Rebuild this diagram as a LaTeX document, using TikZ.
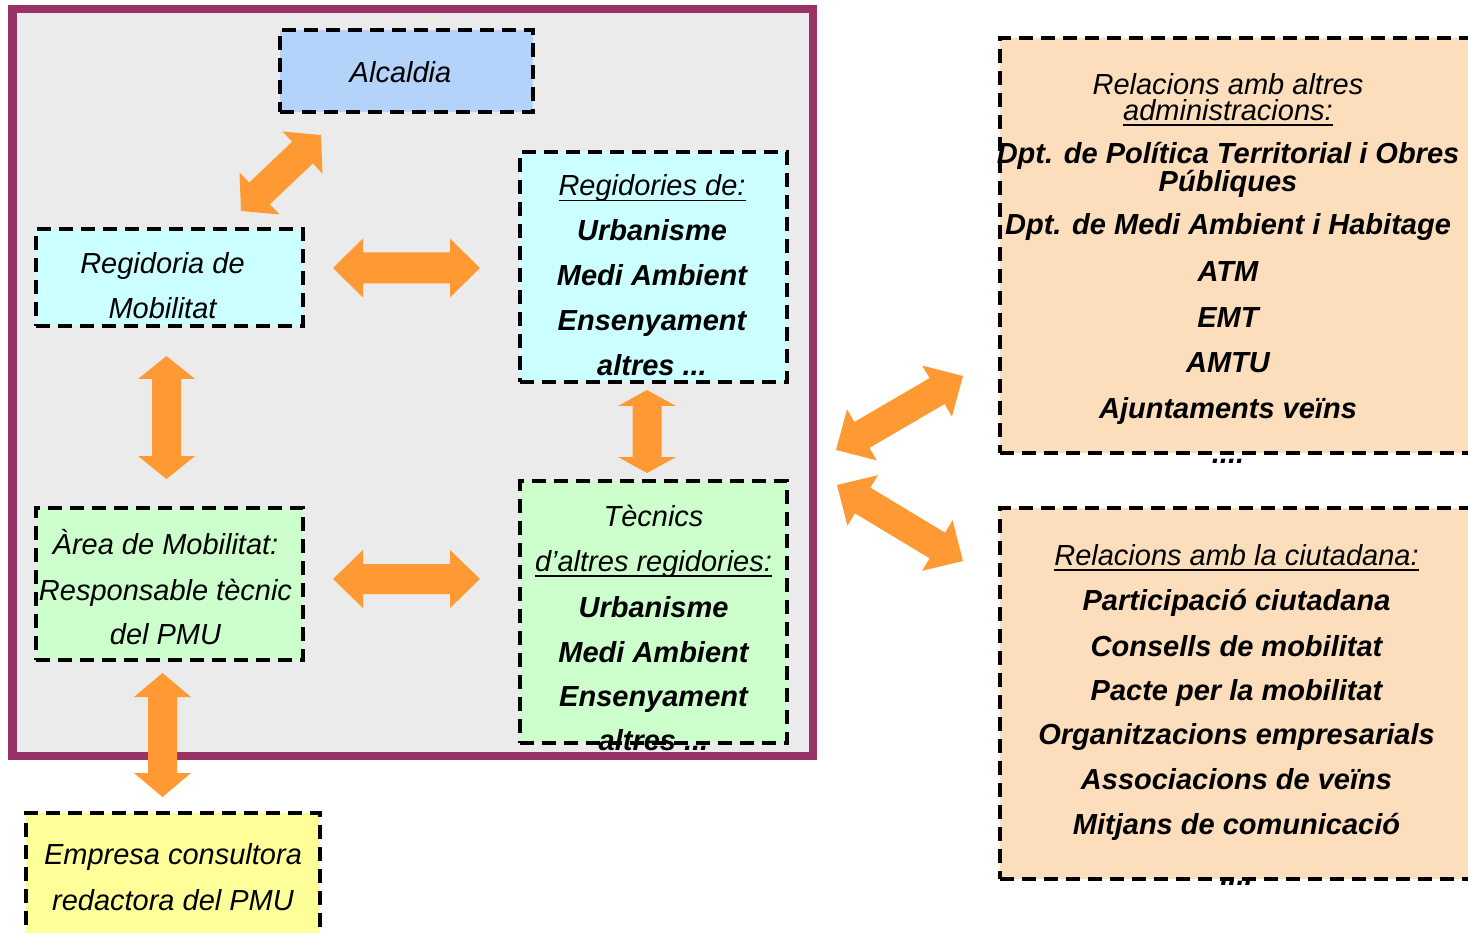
\documentclass[tikz,border=0pt]{standalone}
\usepackage{fontspec}
\setmainfont{Liberation Sans}
\usetikzlibrary{calc}
\definecolor{frameP}{RGB}{153,51,102}
\definecolor{frameBg}{RGB}{235,235,235}
\definecolor{alcBlue}{RGB}{180,211,250}
\definecolor{cyanBox}{RGB}{204,255,255}
\definecolor{greenBox}{RGB}{204,255,204}
\definecolor{yellowBox}{RGB}{255,255,153}
\definecolor{peachBox}{RGB}{252,222,188}
\definecolor{arrowOr}{RGB}{255,153,51}
\newcommand\myul[1]{\setbox0=\hbox{#1}\rlap{\rule[-5.5pt]{\wd0}{1.8pt}}\box0}
% #1 start, #2 end, #3 head length, #4 head half width, #5 shaft half width
\newcommand\dblarrow[5]{%
  \fill[arrowfill] (#1)
    -- ($(#1)!#3!(#2)!#4!90:(#2)$) -- ($(#1)!#3!(#2)!#5!90:(#2)$)
    -- ($(#2)!#3!(#1)!#5!-90:(#1)$) -- ($(#2)!#3!(#1)!#4!-90:(#1)$)
    -- (#2)
    -- ($(#2)!#3!(#1)!#4!90:(#1)$) -- ($(#2)!#3!(#1)!#5!90:(#1)$)
    -- ($(#1)!#3!(#2)!#5!-90:(#2)$) -- ($(#1)!#3!(#2)!#4!-90:(#2)$)
    -- cycle;}
\begin{document}
\begin{tikzpicture}[x=1pt,y=-1pt,
  dbox/.style={draw=black, line width=4.5pt, dash pattern=on 14pt off 8pt, inner sep=0pt, outer sep=0pt},
  txt/.style={anchor=base, inner sep=0pt, font=\fontsize{29}{34}\selectfont\itshape},
  btxt/.style={anchor=base, inner sep=0pt, font=\fontsize{29}{34}\selectfont\bfseries\itshape},
  arrowfill/.style={fill=arrowOr}]
\path[use as bounding box, fill=white] (0,0) rectangle (1468,933);
\clip (0,0) rectangle (1468,933);

% frame
\node[draw=frameP, line width=8.5pt, fill=frameBg, minimum width=800.5pt, minimum height=747pt, inner sep=0pt, outer sep=0pt] (frame) at (412.75,382.5) {};

% boxes
\node[dbox, fill=alcBlue, minimum width=253pt, minimum height=82pt] (alc) at (406.5,71) {};
\node[dbox, fill=cyanBox, minimum width=267pt, minimum height=97pt] (regm) at (169.5,277.5) {};
\node[dbox, fill=cyanBox, minimum width=267pt, minimum height=230pt] (regs) at (653.5,267) {};
\node[dbox, fill=greenBox, minimum width=267pt, minimum height=152pt] (area) at (169.5,584) {};
\node[dbox, fill=greenBox, minimum width=267pt, minimum height=262pt] (tec) at (653.5,612) {};
\node[dbox, fill=yellowBox, minimum width=294pt, minimum height=150pt] (emp) at (173,888) {};
\node[dbox, fill=peachBox, minimum width=480pt, minimum height=415pt] (rel1) at (1240,245.5) {};
\node[dbox, fill=peachBox, minimum width=480pt, minimum height=371pt] (rel2) at (1240,693.5) {};

% arrow end points
\coordinate (d1a) at (241,211);   \coordinate (d1b) at (321,135);
\coordinate (h1a) at (333,268);   \coordinate (h1b) at (480,268);
\coordinate (v1a) at (166.5,356); \coordinate (v1b) at (166.5,479);
\coordinate (v2a) at (647,390);   \coordinate (v2b) at (647,473);
\coordinate (h2a) at (333,579);   \coordinate (h2b) at (480,579);
\coordinate (v3a) at (162.5,673); \coordinate (v3b) at (162.5,797);
\coordinate (r1a) at (836,450);   \coordinate (r1b) at (963,376);
\coordinate (r2a) at (837,485);   \coordinate (r2b) at (963,561);

\dblarrow{d1a}{d1b}{25.5pt}{29pt}{15pt}
\dblarrow{h1a}{h1b}{30pt}{29.5pt}{15.5pt}
\dblarrow{v1a}{v1b}{23pt}{28.5pt}{14.5pt}
\dblarrow{v2a}{v2b}{16pt}{29pt}{14.5pt}
\dblarrow{h2a}{h2b}{30pt}{29pt}{15pt}
\dblarrow{v3a}{v3b}{24pt}{28.5pt}{14.5pt}
\dblarrow{r1a}{r1b}{30pt}{29.5pt}{15pt}
\dblarrow{r2a}{r2b}{30pt}{29.5pt}{15pt}

% texts
\node[txt] (tAlc) at (400.5,83) {Alcaldia};

\node[txt] (tRm1) at (162.5,274) {Regidoria de};
\node[txt] (tRm2) at (162.5,319) {Mobilitat};

\node[txt]  (tRs1) at (652,196) {\myul{Regidories de:}};
\node[btxt] (tRs2) at (652,241) {Urbanisme};
\node[btxt] (tRs3) at (652,286) {Medi Ambient};
\node[btxt] (tRs4) at (652,331) {Ensenyament};
\node[btxt] (tRs5) at (652,376) {altres ...};

\node[txt] (tAr1) at (165.5,554) {Àrea de Mobilitat:};
\node[txt] (tAr2) at (165.5,600) {Responsable tècnic};
\node[txt] (tAr3) at (165.5,644) {del PMU};

\node[txt]  (tTc1) at (653.5,526) {Tècnics};
\node[txt]  (tTc2) at (653.5,571) {\myul{d’altres regidories:}};
\node[btxt] (tTc3) at (653.5,617) {Urbanisme};
\node[btxt] (tTc4) at (653.5,662) {Medi Ambient};
\node[btxt] (tTc5) at (653.5,706) {Ensenyament};
\node[btxt] (tTc6) at (653.5,750) {altres ...};

\node[txt] (tEm1) at (173,864) {Empresa consultora};
\node[txt] (tEm2) at (173,910) {redactora del PMU};

\node[anchor=north, inner sep=0pt, align=center, font=\fontsize{29}{26}\selectfont\itshape] (tA1) at (1228,73.5) {Relacions amb altres\\\myul{administracions:}};
\node[btxt] (tA3) at (1228,164) {Dpt. de Política Territorial i Obres};
\node[btxt] (tA4) at (1228,192) {Públiques};
\node[btxt] (tA5) at (1228,235) {Dpt. de Medi Ambient i Habitage};
\node[btxt] (tA6) at (1228,282) {ATM};
\node[btxt] (tA7) at (1228,328) {EMT};
\node[btxt] (tA8) at (1228,373) {AMTU};
\node[btxt] (tA9) at (1228,418) {Ajuntaments veïns};
\node[btxt] (tA10) at (1228,463) {....};

\node[txt]  (tC1) at (1236.5,565) {\myul{Relacions amb la ciutadana:}};
\node[btxt] (tC2) at (1236.5,610) {Participació ciutadana};
\node[btxt] (tC3) at (1236.5,656) {Consells de mobilitat};
\node[btxt] (tC4) at (1236.5,700) {Pacte per la mobilitat};
\node[btxt] (tC5) at (1236.5,744) {Organitzacions empresarials};
\node[btxt] (tC6) at (1236.5,789) {Associacions de veïns};
\node[btxt] (tC7) at (1236.5,834) {Mitjans de comunicació};
\node[btxt] (tC8) at (1236.5,885) {....};
\end{tikzpicture}
\end{document}
